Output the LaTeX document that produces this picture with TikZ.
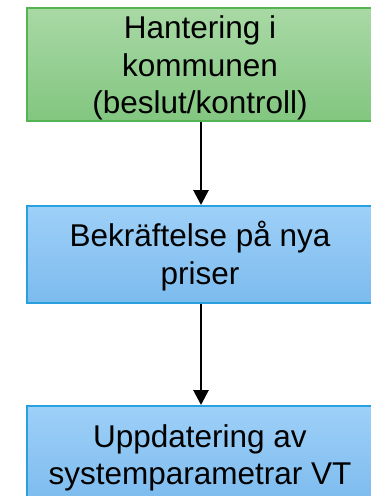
\documentclass[tikz,border=0pt]{standalone}
\usepackage{fontspec}
\setmainfont{Liberation Sans}
\usetikzlibrary{arrows.meta}
\definecolor{gtop}{RGB}{169,217,165}
\definecolor{gbot}{RGB}{130,198,128}
\definecolor{gline}{RGB}{84,180,82}
\definecolor{btop}{RGB}{158,208,248}
\definecolor{bbot}{RGB}{124,187,238}
\definecolor{bline}{RGB}{40,160,222}
\tikzset{
  greenbox/.style={draw=gline, line width=2pt, top color=gtop, bottom color=gbot, rectangle, inner sep=0pt},
  bluebox/.style={draw=bline, line width=2pt, top color=btop, bottom color=bbot, rectangle, inner sep=0pt},
  boxtext/.style={font=\fontsize{31.5}{37.5}\selectfont, align=center, inner sep=0pt, text=black},
  flow/.style={line width=2.8pt, -{Triangle[width=15pt,length=15pt]}}
}
\begin{document}
\begin{tikzpicture}[x=1pt,y=-1pt]
\useasboundingbox (0,0) rectangle (371,496);
\clip (0,0) rectangle (371,496);
\node[greenbox, minimum width=360pt, minimum height=113pt, anchor=north west] (a) at (26,7) {};
\node[bluebox, minimum width=360pt, minimum height=97pt, anchor=north west] (b) at (26,205) {};
\node[bluebox, minimum width=360pt, minimum height=97pt, anchor=north west] (c) at (26,405) {};
\coordinate (a1) at ([xshift=-6pt]a.south);
\coordinate (b1) at ([xshift=-6pt]b.north);
\coordinate (b2) at ([xshift=-6pt]b.south);
\coordinate (c1) at ([xshift=-6pt]c.north);
\node[boxtext] (ta) at (200,68) {Hantering i\\kommunen\\(beslut/kontroll)};
\node[boxtext] (tb) at (200,256) {Bekräftelse på nya\\priser};
\node[boxtext] (tc) at (200,458) {Uppdatering av\\systemparametrar VT};
\draw[flow] (a1) -- (b1);
\draw[flow] (b2) -- (c1);
\end{tikzpicture}
\end{document}
